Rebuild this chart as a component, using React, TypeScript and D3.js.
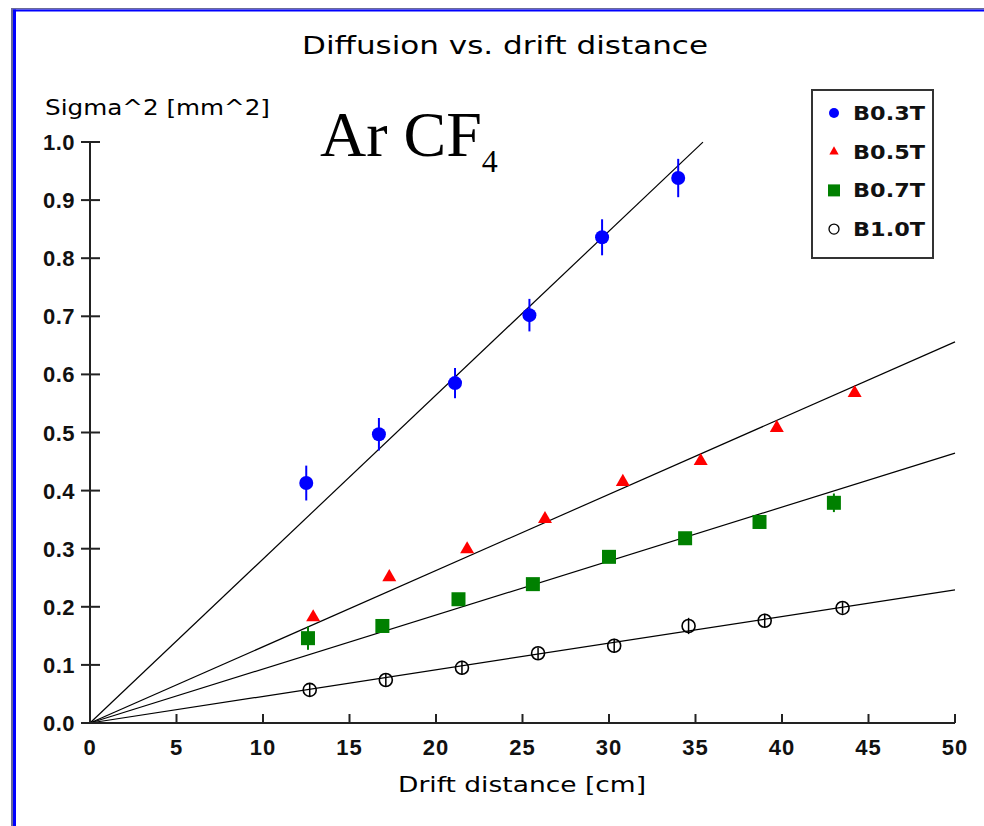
import React from "react";
import * as d3 from "d3";

// ---- data ----
const xTicks = [0, 5, 10, 15, 20, 25, 30, 35, 40, 45, 50];
const yTicks = [0, 0.1, 0.2, 0.3, 0.4, 0.5, 0.6, 0.7, 0.8, 0.9, 1.0];

const b03X = [12.5, 16.7, 21.1, 25.4, 29.6, 34.0];
const b03Y = [0.413, 0.497, 0.585, 0.702, 0.836, 0.938];
const b03Err = [0.030, 0.028, 0.026, 0.028, 0.031, 0.033];

const b05X = [12.9, 17.3, 21.8, 26.3, 30.8, 35.3, 39.7, 44.2];
const b05Y = [0.182, 0.251, 0.299, 0.351, 0.415, 0.451, 0.508, 0.568];

const b07X = [12.6, 16.9, 21.3, 25.6, 30.0, 34.4, 38.7, 43.0];
const b07Y = [0.146, 0.167, 0.213, 0.239, 0.286, 0.318, 0.346, 0.379];
const b07Err = [0.020, 0.008, 0.008, 0.010, 0.008, 0.010, 0.012, 0.016];

const b10X = [12.7, 17.1, 21.5, 25.9, 30.3, 34.6, 39.0, 43.5];
const b10Y = [0.057, 0.074, 0.095, 0.120, 0.133, 0.167, 0.176, 0.198];
const b10Err = [0.012, 0.012, 0.012, 0.010, 0.012, 0.014, 0.012, 0.010];

// fitted slopes (sigma^2 per cm) for each field
const fitSlopes = [0.02822, 0.01312, 0.00929, 0.00458];
const fitXMax = [35.43, 50, 50, 50];

const legendLabels = ["B0.3T", "B0.5T", "B0.7T", "B1.0T"];

export default function App() {
  const x = d3.scaleLinear().domain([0, 50]).range([90, 955]);
  const y = d3.scaleLinear().domain([0, 1]).range([723, 142]);
  const tri = d3.symbol().type(d3.symbolTriangle).size(85)() as string;
  const triSmall = d3.symbol().type(d3.symbolTriangle).size(38)() as string;
  const line = d3
    .line<[number, number]>()
    .x((d) => x(d[0]))
    .y((d) => y(d[1]));

  const sans = "DejaVu Sans, sans-serif";
  const tickFont = "Liberation Sans, Arial, sans-serif";

  return (
    <svg
      width={984}
      height={826}
      style={{ position: "absolute", left: 0, top: 0, display: "block", background: "#fff" }}
    >
      {/* frame */}
      <rect x={11} y={8} width={973} height={1.5} fill="#6a6a9a" />
      <rect x={11} y={8} width={2} height={818} fill="#6a6a9a" />
      <rect x={13} y={9.5} width={971} height={2} fill="#0000ff" />
      <rect x={13} y={9.5} width={3} height={816.5} fill="#0000ff" />

      {/* title */}
      <text x={505} y={54} fontFamily={sans} fontSize={25} textAnchor="middle" textLength={406} lengthAdjust="spacingAndGlyphs" fill="#000">
        Diffusion vs. drift distance
      </text>
      <text x={45} y={115} fontFamily={sans} fontSize={21} textLength={225} lengthAdjust="spacingAndGlyphs" fill="#000">
        Sigma^2 [mm^2]
      </text>
      <text x={398} y={792} fontFamily={sans} fontSize={21} textLength={248} lengthAdjust="spacingAndGlyphs" fill="#000">
        Drift distance [cm]
      </text>

      {/* Ar CF4 */}
      <text x={320} y={156} fontFamily="Liberation Serif, Times New Roman, serif" fontSize={64} fill="#000">
        Ar CF
        <tspan fontSize={32} dy={16}>4</tspan>
      </text>

      {/* fit lines */}
      {fitSlopes.map((s, i) => (
        <path
          key={"fit" + i}
          d={line([[0, 0], [fitXMax[i], s * fitXMax[i]]]) as string}
          stroke="#000"
          strokeWidth={1.2}
          fill="none"
        />
      ))}

      {/* axes */}
      <line x1={x(0)} x2={x(50)} y1={y(0)} y2={y(0)} stroke="#222" strokeWidth={2} />
      <line x1={x(0)} x2={x(0)} y1={y(0)} y2={y(1)} stroke="#222" strokeWidth={2} />
      {yTicks.map((t) => (
        <g key={"yt" + t}>
          <line x1={81} x2={100} y1={y(t)} y2={y(t)} stroke="#222" strokeWidth={2} />
          <text x={75} y={y(t) + 8} textAnchor="end" fontFamily={tickFont} fontWeight="bold" fontSize={22} letterSpacing={0.5} fill="#111">
            {t.toFixed(1)}
          </text>
        </g>
      ))}
      {xTicks.map((t) => (
        <g key={"xt" + t}>
          {t > 0 && <line x1={x(t)} x2={x(t)} y1={y(0) - 9} y2={y(0)} stroke="#222" strokeWidth={2} />}
          <text x={x(t)} y={755} textAnchor="middle" fontFamily={tickFont} fontWeight="bold" fontSize={22} letterSpacing={1} fill="#111">
            {String(t)}
          </text>
        </g>
      ))}

      {/* B1.0T open circles */}
      {b10X.map((v, i) => (
        <g key={"b10" + i}>
          <line x1={x(v)} x2={x(v)} y1={y(b10Y[i] - b10Err[i])} y2={y(b10Y[i] + b10Err[i])} stroke="#000" strokeWidth={1.5} />
          <circle cx={x(v)} cy={y(b10Y[i])} r={6.5} fill="none" stroke="#000" strokeWidth={1.6} />
        </g>
      ))}

      {/* B0.7T green squares */}
      {b07X.map((v, i) => (
        <g key={"b07" + i}>
          <line x1={x(v)} x2={x(v)} y1={y(b07Y[i] - b07Err[i])} y2={y(b07Y[i] + b07Err[i])} stroke="#008000" strokeWidth={2} />
          <rect x={x(v) - 7} y={y(b07Y[i]) - 7} width={14} height={14} fill="#008000" />
        </g>
      ))}

      {/* B0.5T red triangles */}
      {b05X.map((v, i) => (
        <path key={"b05" + i} d={tri} transform={`translate(${x(v)},${y(b05Y[i])})`} fill="#ff0000" />
      ))}

      {/* B0.3T blue dots */}
      {b03X.map((v, i) => (
        <g key={"b03" + i}>
          <line x1={x(v)} x2={x(v)} y1={y(b03Y[i] - b03Err[i])} y2={y(b03Y[i] + b03Err[i])} stroke="#0000ff" strokeWidth={2} />
          <circle cx={x(v)} cy={y(b03Y[i])} r={7} fill="#0000ff" />
        </g>
      ))}

      {/* legend */}
      <rect x={812} y={90} width={121} height={168} fill="#fff" stroke="#333" strokeWidth={2} />
      {legendLabels.map((lab, i) => {
        const cy = 113 + i * 38.7;
        let marker: React.ReactNode = null;
        if (i === 0) marker = <circle cx={834} cy={cy} r={5} fill="#0000ff" />;
        if (i === 1) marker = <path d={triSmall} transform={`translate(834,${cy})`} fill="#ff0000" />;
        if (i === 2) marker = <rect x={828} y={cy - 6} width={12} height={12} fill="#008000" />;
        if (i === 3) marker = <circle cx={834} cy={cy} r={5} fill="none" stroke="#000" strokeWidth={1.3} />;
        return (
          <g key={"lg" + i}>
            {marker}
            <text x={853} y={cy + 7} fontFamily={sans} fontWeight="bold" fontSize={19} textLength={72} lengthAdjust="spacingAndGlyphs" fill="#111">
              {lab}
            </text>
          </g>
        );
      })}
    </svg>
  );
}
